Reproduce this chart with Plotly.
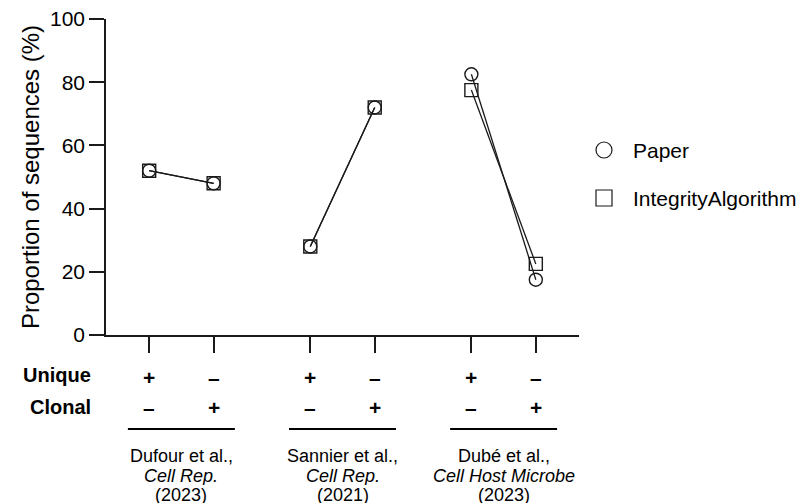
import plotly.graph_objects as go

# Category positions: two conditions per study, with a wider gap between studies
positions = [0, 1, 2.5, 3.5, 5, 6]
studies = [
    ("Dufour et al.,", "Cell Rep.", "(2023)"),
    ("Sannier et al.,", "Cell Rep.", "(2021)"),
    ("Dubé et al.,", "Cell Host Microbe", "(2023)"),
]
unique_row = ["+", "–", "+", "–", "+", "–"]
clonal_row = ["–", "+", "–", "+", "–", "+"]
series_names = ["Paper", "IntegrityAlgorithm"]

# Proportion of sequences (%) per condition
paper = [52, 48, 28, 72, 82.5, 17.5]
integrity = [52, 48, 28, 72, 77.5, 22.5]

FONT = "Liberation Sans, Arial, sans-serif"
INK = "#1a1a1a"

# plot-area geometry (pixels)
W, HGT = 797, 503
LEFT, RIGHT, TOP, BOTTOM = 106, 579, 19, 335
PW, PH = RIGHT - LEFT, BOTTOM - TOP


def px(pix):
    return (pix - LEFT) / PW


def py(pix):
    return (BOTTOM - pix) / PH


def paired(xs, ys):
    """Join each study's two points and break the line between studies."""
    ox, oy = [], []
    for i in range(0, len(xs), 2):
        ox += [xs[i], xs[i + 1], None]
        oy += [ys[i], ys[i + 1], None]
    return ox[:-1], oy[:-1]


fig = go.Figure()

for vals, symbol, name in [
    (paper, "circle-open", series_names[0]),
    (integrity, "square-open", series_names[1]),
]:
    x, y = paired(positions, vals)
    fig.add_trace(go.Scatter(
        x=x, y=y, mode="lines+markers", name=name, showlegend=False,
        line=dict(color=INK, width=1.3),
        marker=dict(symbol=symbol, size=13, color=INK, line=dict(width=1.4, color=INK)),
        connectgaps=False,
    ))

annotations = []
shapes = []

# row headers and +/- indicators beneath the axis
for lbl, ypix in [("Unique", 375), ("Clonal", 407)]:
    annotations.append(dict(
        text=f"<b>{lbl}</b>", xref="paper", yref="paper", x=px(93), y=py(ypix),
        xanchor="right", yanchor="middle", showarrow=False,
        font=dict(size=20, family=FONT, color="black"),
    ))
for row, ypix in [(unique_row, 377), (clonal_row, 408)]:
    for xv, s in zip(positions, row):
        annotations.append(dict(
            text=f"<b>{s}</b>", xref="x", yref="paper", x=xv, y=py(ypix),
            xanchor="center", yanchor="middle", showarrow=False,
            font=dict(size=21, family=FONT, color="black"),
        ))

# study brackets and citations
for i, lines in enumerate(studies):
    center = (positions[2 * i] + positions[2 * i + 1]) / 2
    shapes.append(dict(
        type="line", xref="x", yref="paper", x0=center - 0.83, x1=center + 0.83,
        y0=py(429), y1=py(429), line=dict(color="black", width=2),
    ))
    for j, (txt, ypix) in enumerate(zip(lines, [455, 475, 494])):
        annotations.append(dict(
            text=f"<i>{txt}</i>" if j == 1 else txt,
            xref="x", yref="paper", x=center, y=py(ypix),
            xanchor="center", yanchor="middle", showarrow=False, height=19,
            font=dict(size=18, family=FONT, color="black"),
        ))

# legend
LEG_X, LEG_R = 604, 8
for k, (name, kind, ypix) in enumerate([
    (series_names[0], "circle", 150), (series_names[1], "rect", 198),
]):
    shapes.append(dict(
        type=kind, xref="paper", yref="paper",
        x0=px(LEG_X - LEG_R), x1=px(LEG_X + LEG_R),
        y0=py(ypix + LEG_R), y1=py(ypix - LEG_R),
        line=dict(color=INK, width=1.2), fillcolor="rgba(0,0,0,0)",
    ))
    annotations.append(dict(
        text=name, xref="paper", yref="paper", x=px(631), y=py(ypix),
        xanchor="left", yanchor="middle", showarrow=False,
        font=dict(size=21, family=FONT, color="black"),
    ))

fig.update_layout(
    width=W, height=HGT,
    margin=dict(l=LEFT, r=W - RIGHT, t=TOP, b=HGT - BOTTOM, autoexpand=False),
    paper_bgcolor="white", plot_bgcolor="white",
    font=dict(family=FONT, color="black"),
    showlegend=False,
    xaxis=dict(
        range=[-0.67, 6.67], tickvals=positions, ticktext=[""] * len(positions),
        ticks="outside", ticklen=16, tickwidth=1.5, tickcolor=INK,
        showline=True, linecolor=INK, linewidth=1.5,
        showgrid=False, zeroline=False, fixedrange=True,
    ),
    yaxis=dict(
        range=[0, 100], tickvals=[0, 20, 40, 60, 80, 100],
        ticks="outside", ticklen=15, tickwidth=1.5, tickcolor=INK,
        showline=True, linecolor=INK, linewidth=1.5,
        showgrid=False, zeroline=False, fixedrange=True,
        tickfont=dict(size=21, family=FONT, color="black"),
        title=dict(text="Proportion of sequences (%)", standoff=4,
                   font=dict(size=24, family=FONT, color="black")),
    ),
    annotations=annotations,
    shapes=shapes,
)

fig.write_html("out.html", config={"displayModeBar": False})
